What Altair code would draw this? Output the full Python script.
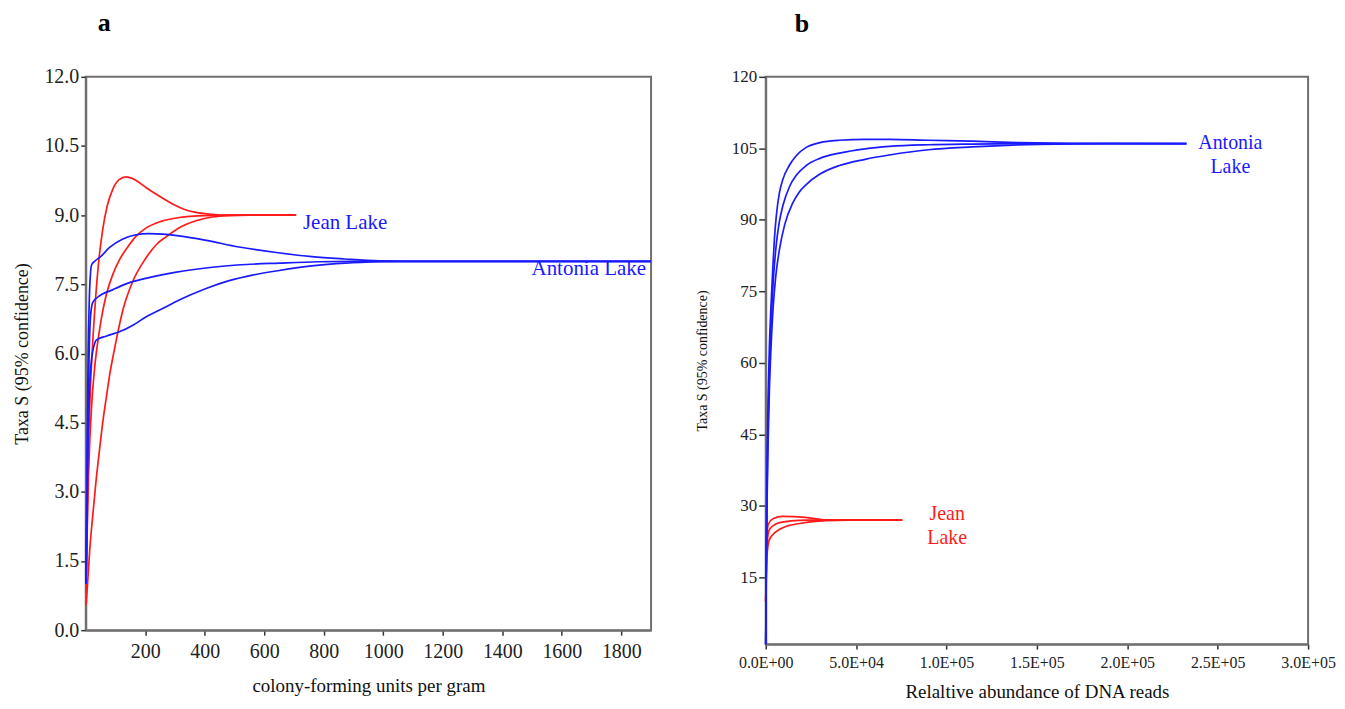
import altair as alt
import pandas as pd

# ---------------- Panel a: colony-forming units per gram ----------------
a_jean_upper_x = [1, 5, 10, 16, 23, 32, 42, 56, 72, 90, 112, 136, 165, 202, 245, 290, 330, 370, 420, 480, 707]
a_jean_upper_y = [1.0, 2.5, 4.2, 5.3, 6.2, 7.1, 7.9, 8.65, 9.2, 9.55, 9.77, 9.83, 9.77, 9.6, 9.42, 9.25, 9.13, 9.06, 9.02, 9.0, 9.0]
a_jean_mid_x = [1, 5, 10, 20, 30, 46, 70, 90, 113, 140, 170, 202, 250, 314, 400, 500, 707]
a_jean_mid_y = [0.8, 2.2, 3.5, 4.9, 5.7, 6.5, 7.3, 7.7, 8.03, 8.3, 8.55, 8.72, 8.86, 8.95, 8.99, 9.0, 9.0]
a_jean_low_x = [1, 6, 14, 23, 34, 46, 57, 68, 82, 96, 125, 157, 200, 240, 270, 320, 370, 425, 480, 550, 707]
a_jean_low_y = [0.55, 1.0, 1.8, 2.45, 3.2, 3.9, 4.5, 5.0, 5.6, 6.08, 6.95, 7.55, 8.05, 8.38, 8.53, 8.75, 8.88, 8.96, 8.99, 9.0, 9.0]

a_ant_upper_x = [1, 4, 8, 12, 16, 20, 30, 50, 80, 123, 165, 213, 260, 314, 400, 515, 640, 760, 870, 985, 1100, 1900]
a_ant_upper_y = [1.0, 3.5, 6.0, 7.2, 7.75, 7.93, 8.0, 8.1, 8.3, 8.48, 8.57, 8.6, 8.59, 8.55, 8.46, 8.31, 8.19, 8.1, 8.05, 8.01, 8.0, 8.0]
a_ant_mid_x = [1, 4, 8, 12, 16, 23, 40, 90, 140, 202, 300, 425, 540, 650, 780, 900, 1900]
a_ant_mid_y = [1.0, 3.0, 5.0, 6.2, 6.8, 7.1, 7.22, 7.38, 7.52, 7.63, 7.76, 7.87, 7.93, 7.96, 7.99, 8.0, 8.0]
a_ant_low_x = [1, 4, 8, 13, 20, 28, 35, 70, 113, 160, 202, 260, 314, 400, 482, 560, 650, 760, 873, 1000, 1100, 1900]
a_ant_low_y = [1.0, 2.6, 4.2, 5.3, 5.9, 6.18, 6.29, 6.38, 6.47, 6.62, 6.79, 6.98, 7.16, 7.4, 7.58, 7.7, 7.8, 7.9, 7.96, 7.99, 8.0, 8.0]

a_label_jean = ["Jean Lake"]
a_label_jean_x = [730]
a_label_jean_y = [8.82]
a_label_ant = ["Antonia Lake"]
a_label_ant_x = [1883]
a_label_ant_y = [7.83]
a_x_ticks = [200, 400, 600, 800, 1000, 1200, 1400, 1600, 1800]
a_y_ticks = [0.0, 1.5, 3.0, 4.5, 6.0, 7.5, 9.0, 10.5, 12.0]

# ---------------- Panel b: relative abundance of DNA reads ----------------
b_ant_upper_x = [0, 200, 500, 900, 1400, 2000, 2800, 3800, 4800, 5900, 7500, 9500, 13200, 17000, 22400, 30000, 40800, 55000, 68400, 90000, 114000, 140000, 170000, 232700]
b_ant_upper_y = [1, 15, 30, 43, 54, 63, 71, 79, 86, 91, 95.5, 98.5, 101.5, 103.5, 105.2, 106.2, 106.7, 106.9, 106.9, 106.7, 106.5, 106.2, 106.05, 106]
b_ant_mid_x = [0, 250, 600, 1100, 1700, 2400, 3300, 4500, 5900, 7500, 9500, 13200, 17000, 22400, 30000, 40800, 55000, 68400, 90000, 114000, 150000, 232700]
b_ant_mid_y = [1, 15, 30, 43, 54, 63, 71, 79, 85, 89.5, 93, 97.0, 99.4, 101.4, 102.9, 104.0, 104.9, 105.4, 105.75, 105.9, 106, 106]
b_ant_low_x = [0, 300, 700, 1300, 2000, 2900, 4000, 5500, 7700, 10500, 14900, 18500, 22400, 30000, 40800, 55000, 68400, 90000, 114000, 151000, 190000, 232700]
b_ant_low_y = [1, 15, 30, 43, 54, 63, 71, 78, 84, 89, 93.5, 95.8, 97.4, 99.6, 101.4, 102.7, 103.6, 104.7, 105.3, 105.85, 106, 106]

b_jean_upper_x = [0, 300, 800, 1500, 4000, 9400, 22000, 33500, 45000, 75500]
b_jean_upper_y = [10, 20, 24.5, 26.2, 27.3, 27.8, 27.6, 27.05, 27, 27]
b_jean_mid_x = [0, 400, 1000, 1800, 4000, 7700, 14000, 22400, 40000, 75500]
b_jean_mid_y = [10, 19, 23, 24.8, 25.8, 26.5, 26.85, 27.0, 27, 27]
b_jean_low_x = [0, 500, 1200, 1800, 4000, 7700, 12000, 18700, 26000, 33500, 45000, 75500]
b_jean_low_y = [10, 18, 21.5, 22.7, 24.0, 25.1, 25.8, 26.3, 26.7, 26.9, 27, 27]

b_label_text = ["Antonia\nLake", "Jean\nLake"]
b_label_lake = ["Antonia", "Jean"]
b_label_x = [257000, 100400]
b_label_y = [106.2, 28.2]
b_x_ticks = [0, 50000, 100000, 150000, 200000, 250000, 300000]
b_x_labels = ["0.0E+00", "5.0E+04", "1.0E+05", "1.5E+05", "2.0E+05", "2.5E+05", "3.0E+05"]
b_y_ticks = [15, 30, 45, 60, 75, 90, 105, 120]

RED = "#ff1a1a"
BLUE = "#1a1aff"
FONT = "Liberation Serif"


def frame(curves):
    rows = []
    for name, lake, xs, ys in curves:
        for i, (x, y) in enumerate(zip(xs, ys)):
            rows.append({"curve": name, "lake": lake, "x": x, "y": y, "order": i})
    return pd.DataFrame(rows)


color_scale = alt.Scale(domain=["Jean", "Antonia"], range=[RED, BLUE])

df_a = frame([
    ("j1", "Jean", a_jean_upper_x, a_jean_upper_y),
    ("j2", "Jean", a_jean_mid_x, a_jean_mid_y),
    ("j3", "Jean", a_jean_low_x, a_jean_low_y),
    ("a1", "Antonia", a_ant_upper_x, a_ant_upper_y),
    ("a2", "Antonia", a_ant_mid_x, a_ant_mid_y),
    ("a3", "Antonia", a_ant_low_x, a_ant_low_y),
])

df_b = frame([
    ("j1", "Jean", b_jean_upper_x, b_jean_upper_y),
    ("j2", "Jean", b_jean_mid_x, b_jean_mid_y),
    ("j3", "Jean", b_jean_low_x, b_jean_low_y),
    ("a1", "Antonia", b_ant_upper_x, b_ant_upper_y),
    ("a2", "Antonia", b_ant_mid_x, b_ant_mid_y),
    ("a3", "Antonia", b_ant_low_x, b_ant_low_y),
])

lab_a_jean = pd.DataFrame({"text": a_label_jean, "x": a_label_jean_x, "y": a_label_jean_y})
lab_a_ant = pd.DataFrame({"text": a_label_ant, "x": a_label_ant_x, "y": a_label_ant_y})
lab_b = pd.DataFrame({"text": b_label_text, "lake": b_label_lake, "x": b_label_x, "y": b_label_y})

axis_common = dict(
    labelFont=FONT, titleFont=FONT, labelColor="#222222", titleColor="#111111",
    domainColor="#707070", domainWidth=2, tickColor="#333333", tickWidth=1.5,
    grid=False, titleFontWeight="normal", labelOverlap=False, labelFlush=False,
)

xa = alt.X("x:Q", scale=alt.Scale(domain=[0, 1900], nice=False, zero=False),
           axis=alt.Axis(values=a_x_ticks, format="d", title="colony-forming units per gram",
                         labelFontSize=20, titleFontSize=19, tickSize=5, labelPadding=6,
                         titlePadding=16, **axis_common))
ya = alt.Y("y:Q", scale=alt.Scale(domain=[0, 12], nice=False),
           axis=alt.Axis(values=a_y_ticks, format=".1f", title="Taxa S (95% confidence)",
                         labelFontSize=20, titleFontSize=18, tickSize=5, labelPadding=2,
                         titlePadding=12, **axis_common))

lines_a = alt.Chart(df_a).mark_line(interpolate="monotone", strokeWidth=1.7).encode(
    x=xa, y=ya,
    color=alt.Color("lake:N", scale=color_scale, legend=None),
    detail="curve:N", order="order:Q",
)
text_a1 = alt.Chart(lab_a_jean).mark_text(font=FONT, fontSize=21, color=BLUE, baseline="middle",
                                          align="left").encode(x="x:Q", y="y:Q", text="text:N")
text_a2 = alt.Chart(lab_a_ant).mark_text(font=FONT, fontSize=21, color=BLUE, baseline="middle",
                                         align="right").encode(x="x:Q", y="y:Q", text="text:N")
chart_a = alt.layer(lines_a, text_a1, text_a2).properties(
    width=567, height=555,
    title=alt.TitleParams("a", anchor="start", frame="group", dx=12, offset=31,
                          fontSize=26, font=FONT, fontWeight="bold", color="black"),
)

label_expr = "[" + ",".join("'" + s + "'" for s in b_x_labels) + "][round(datum.value/50000)]"
xb = alt.X("x:Q", scale=alt.Scale(domain=[0, 300000], nice=False, zero=False),
           axis=alt.Axis(values=b_x_ticks, labelExpr=label_expr, title="Relaltive abundance of DNA reads",
                         labelFontSize=16, titleFontSize=19, tickSize=5, labelPadding=5,
                         titlePadding=13, **axis_common))
yb = alt.Y("y:Q", scale=alt.Scale(domain=[1, 120], nice=False, zero=False),
           axis=alt.Axis(values=b_y_ticks, format="d", title="Taxa S (95% confidence)",
                         labelFontSize=17, titleFontSize=14, tickSize=7, labelPadding=2,
                         titlePadding=22, **axis_common))

lines_b = alt.Chart(df_b).mark_line(interpolate="monotone", strokeWidth=1.7).encode(
    x=xb, y=yb,
    color=alt.Color("lake:N", scale=color_scale, legend=None),
    detail="curve:N", order="order:Q",
)
text_b = alt.Chart(lab_b).mark_text(font=FONT, fontSize=20, lineBreak="\n", lineHeight=24,
                                    baseline="middle", align="center").encode(
    x="x:Q", y="y:Q", text="text:N",
    color=alt.Color("lake:N", scale=color_scale, legend=None),
)
chart_b = alt.layer(lines_b, text_b).properties(
    width=544, height=569,
    title=alt.TitleParams("b", anchor="start", frame="group", dx=29, offset=31,
                          fontSize=26, font=FONT, fontWeight="bold", color="black"),
)

chart = alt.hconcat(chart_a, chart_b, spacing=38).properties(
    padding={"left": 5, "top": 0, "right": 0, "bottom": 0}
).configure(font=FONT).configure_axis(labelFont=FONT, titleFont=FONT).configure_view(
    stroke="#707070", strokeWidth=2)

chart.save("out.html", embed_options={"renderer": "svg", "actions": False})
